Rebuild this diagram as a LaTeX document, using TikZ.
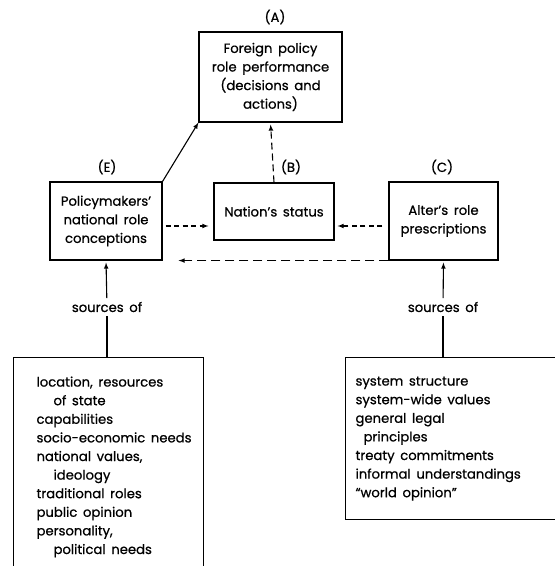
\documentclass[tikz,border=0pt]{standalone}
\usepackage{fontspec}
\setmainfont{Poppins}[FakeBold=0.7,WordSpace=1.6]
\usetikzlibrary{arrows}
\usetikzlibrary{calc}
\usetikzlibrary{positioning}

\begin{document}
\begin{tikzpicture}[x=1pt,y=-1pt,
		font=\fontsize{13.2}{18.6}\selectfont,
		line width=1.1pt,>=latex,
		rolebox/.style={draw,align=center,inner sep=0pt},
		srcbox/.style={draw,align=left,anchor=north west,inner sep=0pt},
		tag/.style={font=\fontsize{13.2}{15}\selectfont},
		shortdash/.style={dash pattern=on 5pt off 3.5pt},
		longdash/.style={dash pattern=on 9pt off 5pt}]
		\clip (0,0) rectangle (555,566);
		\useasboundingbox (0,0) rectangle (555,566);
		% role boxes
		\node[rolebox,minimum width=143pt,minimum height=90pt] (A) at (270.5,77) {Foreign policy\\role performance\\(decisions and\\actions)};
		\node[rolebox,minimum width=112pt,minimum height=78pt] (E) at (106,221) {Policymakers’\\national role\\conceptions};
		\node[rolebox,minimum width=120pt,minimum height=57pt] (B) at (274,211.5) {Nation’s status};
		\node[rolebox,minimum width=109pt,minimum height=78pt] (C) at (443.5,221) {Alter’s role\\prescriptions};
		\node[tag] (tA) at (275,17) {(A)};
		\node[tag] (tE) at (107,167) {(E)};
		\node[tag] (tB) at (291,167) {(B)};
		\node[tag] (tC) at (442,167) {(C)};
		% sources
		\node (srcE) at (107,307) {sources of};
		\node (srcC) at (443,307) {sources of};
		\node[srcbox,minimum width=190pt,minimum height=230pt] (L) at (13,357) {};
		\node[srcbox,minimum width=225pt,minimum height=162pt] (R) at (345,357) {};
		\node[align=left,anchor=north west,inner sep=0pt] (Ltxt) at (36,376) {location, resources\\\hspace{17pt}of state\\capabilities\\socio-economic needs\\national values,\\\hspace{17pt}ideology\\traditional roles\\public opinion\\personality,\\\hspace{17pt}political needs};
		\node[align=left,anchor=north west,inner sep=0pt] (Rtxt) at (355,376) {system structure\\system-wide values\\general legal\\\hspace{8pt}principles\\treaty commitments\\informal understandings\\“world opinion”};
		% connectors
		\draw[->] (E.north east) -- (A.south west);
		\draw[dash pattern=on 7pt off 4pt,->,shorten >=2pt] (B.north) -- (A.south);
		\draw[shortdash,->,shorten <=3pt,shorten >=5pt] ([yshift=-5pt]E.east) -- ([yshift=-5pt]E.east -| B.west);
		\draw[shortdash,->,shorten <=6pt,shorten >=3pt] ([yshift=-5pt]E.east -| C.west) -- ([yshift=-5pt]E.east -| B.east);
		\draw[longdash,->,shorten >=16pt] (C.south west) -- (E.south east);
		\draw[->,shorten >=2pt] (srcE) -- (E.south);
		\draw[->,shorten >=2pt] (srcC) -- (C.south);
		\draw (L.north -| srcE) -- (srcE);
		\draw (R.north -| srcC) -- (srcC);
	\end{tikzpicture}
\end{document}
